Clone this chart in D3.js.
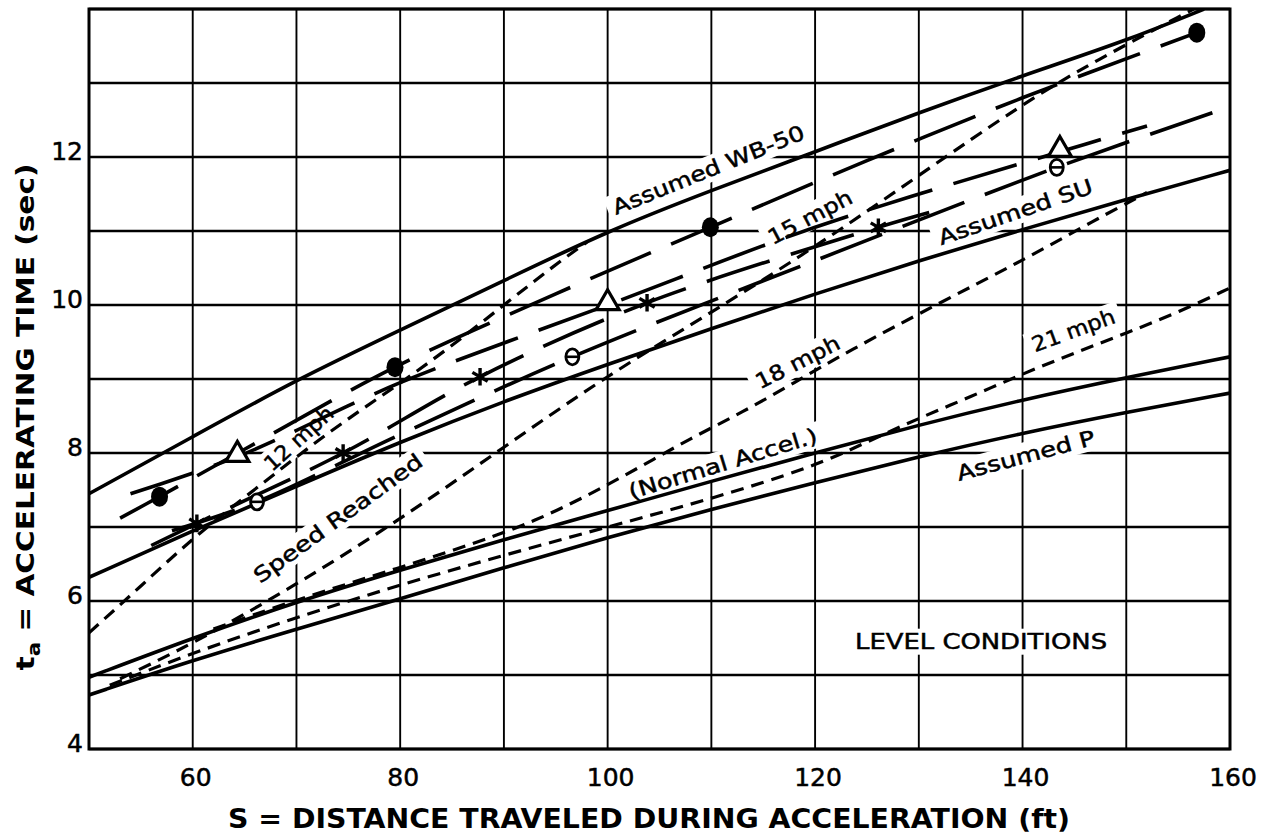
<!DOCTYPE html>
<html>
<head>
<meta charset="utf-8">
<script src="https://cdn.jsdelivr.net/npm/d3@7/dist/d3.min.js"></script>
<style>
  html, body { margin: 0; padding: 0; background: #fff; }
  svg { display: block; }
  text { font-family: "DejaVu Sans", sans-serif; fill: #000; }
</style>
</head>
<body>
<svg id="chart" width="1264" height="836"></svg>
<script>
// axis values
var xGridValues = [50, 60, 70, 80, 90, 100, 110, 120, 130, 140, 150, 160];
var yGridValues = [4, 5, 6, 7, 8, 9, 10, 11, 12, 13, 14];
var xTickLabels = [60, 80, 100, 120, 140, 160];
var yTickLabels = [4, 6, 8, 10, 12];

// solid curves: assumed vehicles  [distance ft, time sec]
var assumedWB50 = [[50,7.45],[60,8.22],[70,8.99],[80,9.66],[90,10.33],[100,11.0],[110,11.55],[120,12.07],[130,12.6],[140,13.1],[150,13.57],[157.5,14.0]];
var assumedSU = [[50,6.32],[60,6.95],[70,7.55],[80,8.15],[90,8.7],[100,9.2],[110,9.68],[120,10.15],[130,10.6],[140,11.02],[150,11.43],[160,11.82]];
var normalAccel = [[50,4.97],[60,5.5],[70,5.99],[80,6.42],[90,6.83],[100,7.22],[110,7.62],[120,8.0],[130,8.38],[140,8.72],[150,9.02],[160,9.3]];
var assumedP = [[50,4.73],[60,5.2],[70,5.62],[80,6.03],[90,6.45],[100,6.86],[110,7.24],[120,7.6],[130,7.95],[140,8.27],[150,8.55],[160,8.81]];

// short dashed: speed reached
var speed12 = [[50,5.57],[55,6.2],[60,6.85],[65,7.4],[70,7.95],[75,8.47],[80,8.94],[85,9.45],[90,10.0],[95,10.55],[98,10.85]];
var speed15 = [[53,4.95],[60,5.42],[70,6.22],[80,7.1],[90,8.08],[100,9.05],[110,9.9],[120,10.78],[130,11.75],[140,12.72],[147,13.3],[156.5,14.0]];
var speed18 = [[62,5.62],[70,6.02],[80,6.45],[88,6.82],[93,7.08],[98,7.42],[103,7.8],[108,8.2],[113,8.55],[118,8.95],[123,9.36],[132,10.03],[140,10.6],[147,11.15],[152,11.52]];
var speed21 = [[52,4.86],[60,5.3],[70,5.78],[80,6.22],[90,6.62],[100,7.0],[110,7.38],[120,7.82],[125,8.15],[130,8.47],[135,8.76],[140,9.07],[145,9.35],[150,9.62],[155,9.9],[160,10.23]];

// long dashed: observed vehicles, with their plotted points
var obsDot = [[53,7.12],[56.8,7.41],[65,8.05],[79.5,9.16],[95,10.15],[109.9,11.05],[125,11.95],[140,12.8],[156.8,13.68]];
var obsDotPts = [[56.8,7.41],[79.5,9.16],[109.9,11.05],[156.8,13.68]];
var obsTri = [[54,7.45],[64.3,7.95],[80,8.95],[100,10.0],[120,11.05],[143.6,12.07],[152,12.42]];
var obsTriPts = [[64.3,7.95],[100,10.0],[143.6,12.07]];
var obsStar = [[56,6.75],[60.4,7.05],[74.5,8.0],[87.7,9.03],[103.8,10.03],[126.1,11.05],[131,11.25]];
var obsStarPts = [[60.4,7.05],[74.5,8.0],[87.7,9.03],[103.8,10.03],[126.1,11.05]];
var obsTheta = [[58,6.95],[66.2,7.34],[80,8.25],[96.6,9.3],[120,10.6],[143.3,11.86],[160,12.68]];
var obsThetaPts = [[66.2,7.34],[96.6,9.3],[143.3,11.86]];

// curve labels
var labelText = ["Assumed WB-50", "12 mph", "Speed Reached", "15 mph", "18 mph", "(Normal Accel.)", "21 mph", "Assumed SU", "Assumed P", "LEVEL CONDITIONS"];
var labelX = [109.7, 70.2, 74.0, 119.5, 118.3, 111.1, 144.9, 139.3, 140.3, 136];
var labelY = [11.83, 8.2, 7.12, 11.19, 9.23, 7.86, 9.66, 11.26, 7.97, 5.45];
var labelAngle = [-22, -42, -36, -28, -27, -17, -20, -19, -15, 0];
var labelLen = [205, 85, 203, 92, 92, 196, 87, 162, 142, 252];

var svg = d3.select("#chart");
var x = d3.scaleLinear().domain([50, 160]).range([89, 1230]);
var y = d3.scaleLinear().domain([4, 14]).range([749, 9]);

svg.append("defs").append("clipPath").attr("id", "plot")
  .append("rect")
  .attr("x", x(50)).attr("y", y(14))
  .attr("width", x(160) - x(50)).attr("height", y(4) - y(14));

// grid
var grid = svg.append("g");
grid.selectAll("line.v").data(xGridValues).enter().append("line")
  .attr("x1", function(d) { return x(d); }).attr("x2", function(d) { return x(d); })
  .attr("y1", y(4)).attr("y2", y(14))
  .attr("stroke", "#000").attr("stroke-width", 1.9);
grid.selectAll("line.h").data(yGridValues).enter().append("line")
  .attr("x1", x(50)).attr("x2", x(160))
  .attr("y1", function(d) { return y(d); }).attr("y2", function(d) { return y(d); })
  .attr("stroke", "#000").attr("stroke-width", 2.5);

// white patches where the lettering breaks the grid
var labels = labelText.map(function(t, i) {
  return { text: t, x: labelX[i], y: labelY[i], a: labelAngle[i], len: labelLen[i] };
});
svg.append("g").selectAll("rect").data(labels).enter().append("rect")
  .attr("transform", function(d) { return "translate(" + x(d.x) + "," + y(d.y) + ") rotate(" + d.a + ")"; })
  .attr("x", function(d) { return -d.len / 2 - 6; })
  .attr("y", -13)
  .attr("width", function(d) { return d.len + 12; })
  .attr("height", 26)
  .attr("fill", "#fff");

// frame
svg.append("rect")
  .attr("x", x(50)).attr("y", y(14))
  .attr("width", x(160) - x(50)).attr("height", y(4) - y(14))
  .attr("fill", "none").attr("stroke", "#000").attr("stroke-width", 3);

var smooth = d3.line()
  .x(function(d) { return x(d[0]); })
  .y(function(d) { return y(d[1]); })
  .curve(d3.curveBasis);
var through = d3.line()
  .x(function(d) { return x(d[0]); })
  .y(function(d) { return y(d[1]); })
  .curve(d3.curveCatmullRom.alpha(0.5));

var curves = svg.append("g").attr("clip-path", "url(#plot)")
  .attr("fill", "none").attr("stroke", "#000").attr("stroke-linecap", "butt");

[assumedWB50, assumedSU, normalAccel, assumedP].forEach(function(s) {
  curves.append("path").attr("d", smooth(s)).attr("stroke-width", 3.6);
});
[speed12, speed15, speed18, speed21].forEach(function(s) {
  curves.append("path").attr("d", smooth(s)).attr("stroke-width", 3.2)
    .attr("stroke-dasharray", "13 8");
});
[obsDot, obsTri, obsStar, obsTheta].forEach(function(s) {
  curves.append("path").attr("d", through(s)).attr("stroke-width", 3.6)
    .attr("stroke-dasharray", "66 22");
});

// plotted points
var marks = svg.append("g");
marks.selectAll("ellipse.dot").data(obsDotPts).enter().append("ellipse")
  .attr("cx", function(d) { return x(d[0]); })
  .attr("cy", function(d) { return y(d[1]); })
  .attr("rx", 8.5).attr("ry", 10)
  .attr("fill", "#000");
marks.selectAll("path.tri").data(obsTriPts).enter().append("path")
  .attr("transform", function(d) { return "translate(" + x(d[0]) + "," + (y(d[1]) - 2) + ")"; })
  .attr("d", d3.symbol().type(d3.symbolTriangle).size(230))
  .attr("fill", "#fff").attr("stroke", "#000").attr("stroke-width", 3.2);
marks.selectAll("path.star").data(obsStarPts).enter().append("path")
  .attr("transform", function(d) { return "translate(" + x(d[0]) + "," + y(d[1]) + ")"; })
  .attr("d", d3.symbol().type(d3.symbolAsterisk).size(220))
  .attr("fill", "none").attr("stroke", "#000").attr("stroke-width", 3.4);
var th = marks.selectAll("g.theta").data(obsThetaPts).enter().append("g")
  .attr("transform", function(d) { return "translate(" + x(d[0]) + "," + y(d[1]) + ")"; });
th.append("ellipse").attr("rx", 6.5).attr("ry", 8)
  .attr("fill", "#fff").attr("stroke", "#000").attr("stroke-width", 2.8);
th.append("line").attr("x1", -6.5).attr("x2", 6.5).attr("y1", 0).attr("y2", 0)
  .attr("stroke", "#000").attr("stroke-width", 2.6);

// curve labels
svg.append("g").selectAll("text").data(labels).enter().append("text")
  .attr("transform", function(d) { return "translate(" + x(d.x) + "," + y(d.y) + ") rotate(" + d.a + ")"; })
  .attr("text-anchor", "middle")
  .attr("dy", "0.36em")
  .attr("font-size", 21)
  .attr("stroke", "#000").attr("stroke-width", 0.5)
  .attr("textLength", function(d) { return d.len; })
  .attr("lengthAdjust", "spacingAndGlyphs")
  .text(function(d) { return d.text; });

// tick labels
svg.append("g").selectAll("text").data(xTickLabels).enter().append("text")
  .attr("x", function(d) { return x(d) + 3; })
  .attr("y", 786)
  .attr("text-anchor", "middle")
  .attr("font-size", 25)
  .attr("stroke", "#000").attr("stroke-width", 0.5)
  .text(function(d) { return d; });
svg.append("g").selectAll("text").data(yTickLabels).enter().append("text")
  .attr("x", 83)
  .attr("y", function(d) { return y(d) + 3; })
  .attr("text-anchor", "end")
  .attr("font-size", 25)
  .attr("stroke", "#000").attr("stroke-width", 0.5)
  .text(function(d) { return d; });

// axis titles
svg.append("text")
  .attr("x", 649).attr("y", 828)
  .attr("text-anchor", "middle")
  .attr("font-size", 26).attr("font-weight", "bold")
  .attr("textLength", 842).attr("lengthAdjust", "spacingAndGlyphs")
  .text("S = DISTANCE TRAVELED DURING ACCELERATION (ft)");

var yt = svg.append("text")
  .attr("transform", "translate(34,417) rotate(-90)")
  .attr("text-anchor", "middle")
  .attr("font-size", 25).attr("font-weight", "bold")
  .attr("textLength", 507).attr("lengthAdjust", "spacingAndGlyphs");
yt.append("tspan").text("t");
yt.append("tspan").attr("font-size", 18).attr("dy", 6).text("a");
yt.append("tspan").attr("dy", -6).text(" = ACCELERATING TIME (sec)");
</script>
</body>
</html>
